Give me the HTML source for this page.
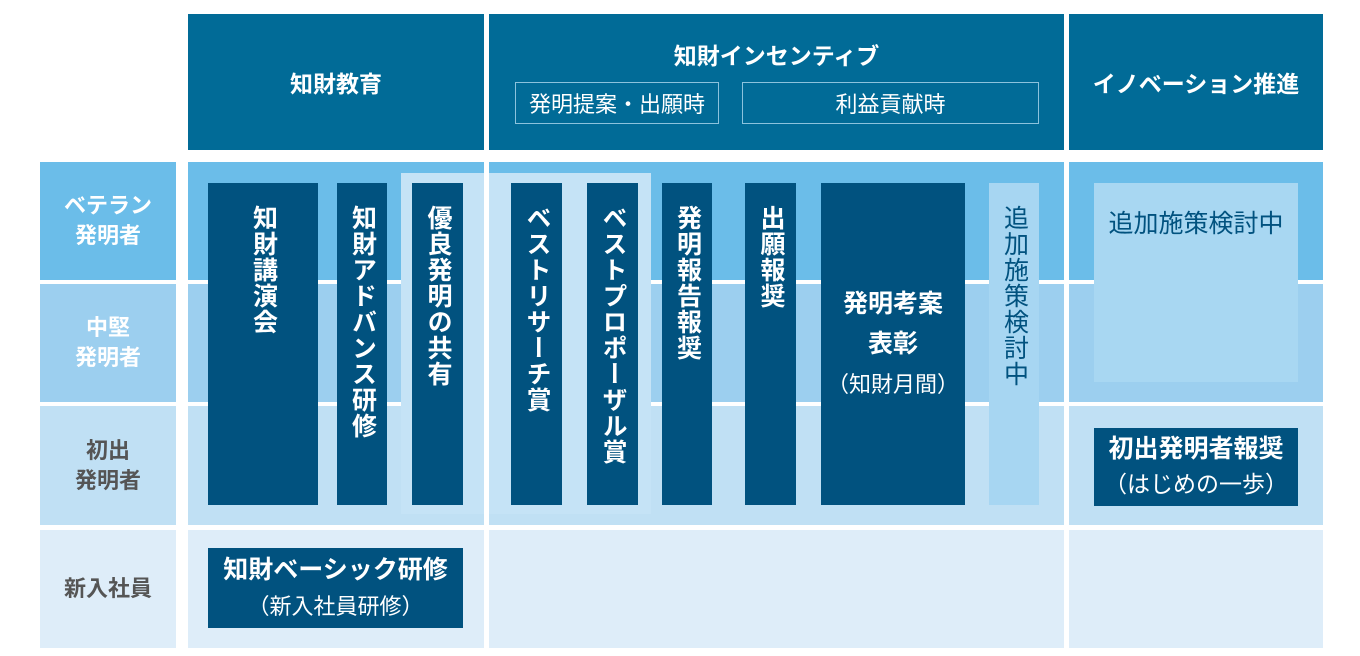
<!DOCTYPE html>
<html><head><meta charset="utf-8"><style>
*{margin:0;padding:0;box-sizing:border-box}
body{width:1360px;height:656px;background:#fff;position:relative;overflow:hidden;font-family:"Liberation Sans","Noto Sans CJK JP",sans-serif;font-weight:bold}
div.a{position:absolute}
.hd{background:#016b97;color:#fff;text-align:center}
.c{display:flex;align-items:center;justify-content:center;text-align:center}
.bar{background:#01527f;color:#fff;writing-mode:vertical-rl;font-size:25px;line-height:1;display:flex;align-items:center;justify-content:flex-start;padding-top:22px;letter-spacing:1px}
.lab{font-size:22px;line-height:30px}
.sub{border:1px solid #8cc3dd;color:#fff;font-size:22px;font-weight:normal;display:flex;align-items:center;justify-content:center}
</style></head><body>
<div class="a hd c" style="left:188px;top:14px;width:296px;height:136px;font-size:23px">知財教育</div>
<div class="a hd" style="left:489px;top:14px;width:575px;height:136px">
 <div class="a" style="left:0;top:23px;width:575px;font-size:23px;text-align:center">知財インセンティブ</div>
</div>
<div class="a sub" style="left:515px;top:82px;width:204px;height:42px">発明提案・出願時</div>
<div class="a sub" style="left:742px;top:82px;width:297px;height:42px">利益貢献時</div>
<div class="a hd c" style="left:1069px;top:14px;width:254px;height:136px;font-size:23px">イノベーション推進</div>

<div class="a c lab" style="left:40px;top:162px;width:136px;height:118px;background:#6bbde9;color:#fff"><div>ベテラン<br>発明者</div></div>
<div class="a c lab" style="left:40px;top:284px;width:136px;height:118px;background:#9ccfef;color:#fff"><div>中堅<br>発明者</div></div>
<div class="a c lab" style="left:40px;top:406px;width:136px;height:119px;background:#c0e0f4;color:#555"><div>初出<br>発明者</div></div>
<div class="a c lab" style="left:40px;top:530px;width:136px;height:118px;background:#deedf9;color:#555"><div>新入社員</div></div>

<div class="a" style="left:188px;top:162px;width:1135px;height:118px;background:#6bbde9"></div>
<div class="a" style="left:188px;top:284px;width:1135px;height:118px;background:#9ccfef"></div>
<div class="a" style="left:188px;top:406px;width:1135px;height:119px;background:#c0e0f4"></div>
<div class="a" style="left:188px;top:530px;width:1135px;height:118px;background:#deedf9"></div>

<div class="a" style="left:401px;top:173px;width:250px;height:341px;background:#c5e3f6"></div>
<div class="a" style="left:484px;top:150px;width:5px;height:506px;background:#fff"></div>
<div class="a" style="left:1064px;top:150px;width:5px;height:506px;background:#fff"></div>

<div class="a bar" style="left:208px;top:183px;width:110px;height:322px">知財講演会</div>
<div class="a bar" style="left:337px;top:183px;width:50px;height:322px">知財アドバンス研修</div>
<div class="a bar" style="left:412px;top:183px;width:51px;height:322px">優良発明の共有</div>
<div class="a bar" style="left:511px;top:183px;width:51px;height:322px">ベストリサーチ賞</div>
<div class="a bar" style="left:587px;top:183px;width:51px;height:322px">ベストプロポーザル賞</div>
<div class="a bar" style="left:662px;top:183px;width:50px;height:322px">発明報告報奨</div>
<div class="a bar" style="left:745px;top:183px;width:51px;height:322px">出願報奨</div>
<div class="a c" style="left:821px;top:183px;width:144px;height:322px;background:#01527f;color:#fff;font-size:25px;line-height:40px"><div>発明考案<br>表彰<br><span style="font-weight:normal;font-size:22px">（知財月間）</span></div></div>
<div class="a bar" style="left:989px;top:183px;width:50px;height:322px;background:#a7d6f2;color:#01527f;font-weight:normal">追加施策検討中</div>

<div class="a" style="left:1094px;top:183px;width:204px;height:199px;background:#a8d7f2;color:#01527f;font-size:25px;font-weight:normal;text-align:center;padding-top:21px">追加施策検討中</div>
<div class="a c" style="left:1094px;top:428px;width:204px;height:78px;background:#01527f;color:#fff;font-size:25px;line-height:35px"><div>初出発明者報奨<br><span style="font-weight:normal;font-size:23px">（はじめの一歩）</span></div></div>

<div class="a c" style="left:208px;top:548px;width:255px;height:80px;background:#01527f;color:#fff;font-size:25px;line-height:36px"><div>知財ベーシック研修<br><span style="font-weight:normal;font-size:22px">（新入社員研修）</span></div></div>
</body></html>
